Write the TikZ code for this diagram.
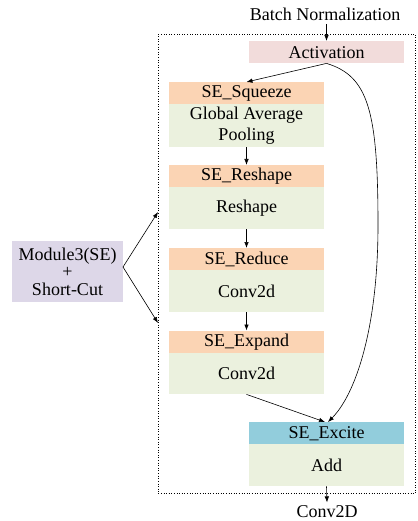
\documentclass[tikz,border=0pt]{standalone}
\usepackage{fontspec}
\setmainfont{Liberation Serif}
\usetikzlibrary{arrows.meta}
\definecolor{hdrpeach}{HTML}{FBD4B4}
\definecolor{bodygreen}{HTML}{EBF1DE}
\definecolor{actpink}{HTML}{F2DCDB}
\definecolor{excblue}{HTML}{92CDDC}
\definecolor{modlav}{HTML}{DDD7E8}
\begin{document}
\begin{tikzpicture}[x=1pt,y=-1pt,
  font=\fontsize{18}{21}\selectfont,
  blk/.style={rectangle, inner sep=0pt, minimum width=155pt, anchor=north, align=center},
  hdr/.style={blk, fill=hdrpeach, minimum height=22pt},
  arr/.style={-{Latex[length=6pt,width=4.5pt]}, line width=0.6pt}]
\useasboundingbox (0,0) rectangle (417,521);

% outer dotted frame of the SE module
\node[draw, dotted, line width=0.6pt, inner sep=0pt, minimum width=257pt, minimum height=459pt, anchor=north west] (frame) at (158,34) {};

% input / output labels
\node (bn) at (325,14) {Batch Normalization};
\node (out) at (327,512) {Conv2D};

% activation
\node[blk, fill=actpink, minimum height=22pt] (act) at (326.5,41) {Activation};

% squeeze
\node[hdr] (sqh) at (246.5,82) {SE\_Squeeze};
\node[blk, fill=bodygreen, minimum height=43pt] (sqb) at (246.5,104) {Global Average\\[0.5pt]Pooling};

% reshape
\node[hdr] (rsh) at (246.5,165) {SE\_Reshape};
\node[blk, fill=bodygreen, minimum height=42pt] (rsb) at (246.5,187) {Reshape};

% reduce
\node[hdr] (rdh) at (246.5,248) {SE\_Reduce};
\node[blk, fill=bodygreen, minimum height=42pt] (rdb) at (246.5,270) {Conv2d};

% expand
\node[hdr] (exh) at (246.5,330.5) {SE\_Expand};
\node[blk, fill=bodygreen, minimum height=41.5pt] (exb) at (246.5,352.5) {Conv2d};

% excite
\node[blk, fill=excblue, minimum height=22pt] (xch) at (326.5,422) {SE\_Excite};
\node[blk, fill=bodygreen, minimum height=42pt] (xcb) at (326.5,444) {Add};

% module label on the left
\node[rectangle, fill=modlav, minimum width=111pt, minimum height=61pt, inner sep=0pt, align=center,
  font=\fontsize{18}{17.5}\selectfont] (mod) at (67.5,271.5) {Module3(SE)\\+\\Short-Cut};

\coordinate (tipA) at (158,212);
\coordinate (tipB) at (158,323);
\coordinate (modR) at (123,267);

% connectors
\draw[arr] (bn.south -| act.north) -- (act.north);
\draw[arr] (act.south) -- (sqh.north);
\draw[arr] (sqb.south) -- (rsh.north);
\draw[arr] (rsb.south) -- (rdh.north);
\draw[arr] (rdb.south) -- (exh.north);
\draw[arr] (exb.south) -- ([xshift=-1.5pt]xch.north);
\draw[arr] (act.south) .. controls (368,76) and (378,110) .. (378,225)
  .. controls (378,330) and (355,395) .. ([xshift=1.5pt]xch.north);
\draw[arr] (xcb.south) -- (out.north);
\draw[arr] (modR) -- (tipA);
\draw[arr] (modR) -- (tipB);
\end{tikzpicture}
\end{document}
